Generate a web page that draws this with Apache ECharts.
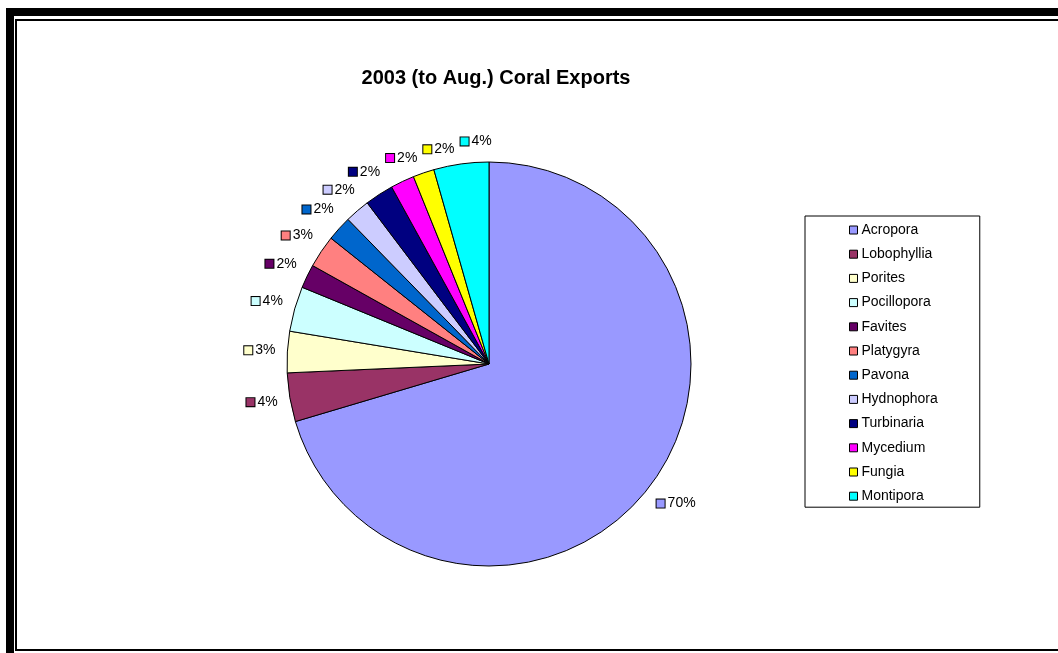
<!DOCTYPE html>
<html>
<head>
<meta charset="utf-8">
<title>2003 (to Aug.) Coral Exports</title>
<script src="https://cdn.jsdelivr.net/npm/echarts@6/dist/echarts.min.js"></script>
<style>
  html, body { margin: 0; padding: 0; background: #fff; }
  #chart { width: 1058px; height: 653px; }
</style>
</head>
<body>
<div id="chart"></div>
<script>
// Coral genera exported in 2003 (January to August), share of total in percent
const genera = ['Acropora', 'Lobophyllia', 'Porites', 'Pocillopora', 'Favites', 'Platygyra',
                'Pavona', 'Hydnophora', 'Turbinaria', 'Mycedium', 'Fungia', 'Montipora'];
const shares = [70.4, 3.9, 3.3, 3.6, 1.9, 2.6, 2.0, 2.0, 2.3, 1.9, 1.7, 4.4];
const sliceColors = ['#9999FF', '#993366', '#FFFFCC', '#CCFFFF', '#660066', '#FF8080',
                     '#0066CC', '#CCCCFF', '#000080', '#FF00FF', '#FFFF00', '#00FFFF'];

const FONT = '"Liberation Sans", Arial, Helvetica, sans-serif';
const PIE_R = 202;      // pie radius, px
const LABEL_GAP = 14;   // clearance between rim and label box
const SIDE_PAD = 6;     // invisible side margin kept between neighbouring labels

// rich-text styles: one small key square per slice, followed by the percentage
const rich = {
  t: { fontSize: 14, lineHeight: 16, color: '#000', fontFamily: FONT, padding: [0, 0, 0, 3], verticalAlign: 'middle' },
  p: { width: SIDE_PAD, height: 1 }
};
sliceColors.forEach(function (c, i) {
  rich['k' + i] = { width: 8, height: 8, backgroundColor: c, borderColor: '#000', borderWidth: 1, verticalAlign: 'middle' };
});

const chart = echarts.init(document.getElementById('chart'), null, { renderer: 'canvas' });

chart.setOption({
  animation: false,
  backgroundColor: '#fff',
  color: sliceColors,
  title: {
    text: '2003 (to Aug.) Coral Exports',
    left: 496,
    top: 68,
    textAlign: 'center',
    padding: 0,
    textStyle: { fontFamily: FONT, fontSize: 20, fontWeight: 'bold', color: '#000', lineHeight: 20 }
  },
  legend: {
    orient: 'vertical',
    left: 805,
    top: 216,
    padding: [6, 42, 3, 44],
    borderColor: '#000',
    borderWidth: 1,
    backgroundColor: '#fff',
    icon: 'rect',
    itemWidth: 8,
    itemHeight: 8,
    itemGap: 8.2,
    itemStyle: { borderColor: '#000', borderWidth: 1 },
    selectedMode: false,
    textStyle: { fontFamily: FONT, fontSize: 14, lineHeight: 16, color: '#000', padding: [0, 0, 0, -1] },
    data: genera
  },
  graphic: [
    // heavy black frame along the top and left, with a thin inner border
    { type: 'rect', shape: { x: 6, y: 8, width: 8, height: 660 }, style: { fill: '#000' }, silent: true },
    { type: 'rect', shape: { x: 6, y: 8, width: 1070, height: 8 }, style: { fill: '#000' }, silent: true },
    { type: 'rect', shape: { x: 16, y: 20, width: 1100, height: 630 }, style: { fill: 'none', stroke: '#000', lineWidth: 2 }, silent: true }
  ],
  series: [{
    type: 'pie',
    center: [489, 364],
    radius: PIE_R,
    startAngle: 90,
    clockwise: true,
    avoidLabelOverlap: false,
    emphasis: { disabled: true },
    itemStyle: { borderColor: '#000', borderWidth: 1 },
    label: {
      show: true,
      position: 'outside',
      formatter: function (p) {
        return '{p|}{k' + p.dataIndex + '|}{t|' + Math.round(p.percent) + '%}{p|}';
      },
      rich: rich
    },
    labelLine: { show: true, length: 10, length2: 0, lineStyle: { color: 'rgba(0,0,0,0)', width: 0, opacity: 0 } },
    // push each label box out along the slice's middle ray until it clears the rim;
    // the crowded labels near the top are spread sideways so they do not collide
    labelLayout: function (params) {
      const pts = params.labelLinePoints;
      if (!pts) { return {}; }
      let ux = pts[1][0] - pts[0][0];
      let uy = pts[1][1] - pts[0][1];
      const len = Math.sqrt(ux * ux + uy * uy) || 1;
      ux /= len; uy /= len;
      const hw = (params.labelRect.width - 2 * SIDE_PAD) / 2;
      const hh = params.labelRect.height / 2;
      const dist = LABEL_GAP + Math.abs(ux) * hw + Math.abs(uy) * hh;
      return {
        x: pts[0][0] + ux * dist,
        y: pts[0][1] + uy * dist,
        align: 'center',
        verticalAlign: 'middle',
        moveOverlap: uy < -0.8 ? 'shiftX' : null
      };
    },
    data: genera.map(function (name, i) {
      return { name: name, value: shares[i] };
    })
  }]
});
</script>
</body>
</html>
